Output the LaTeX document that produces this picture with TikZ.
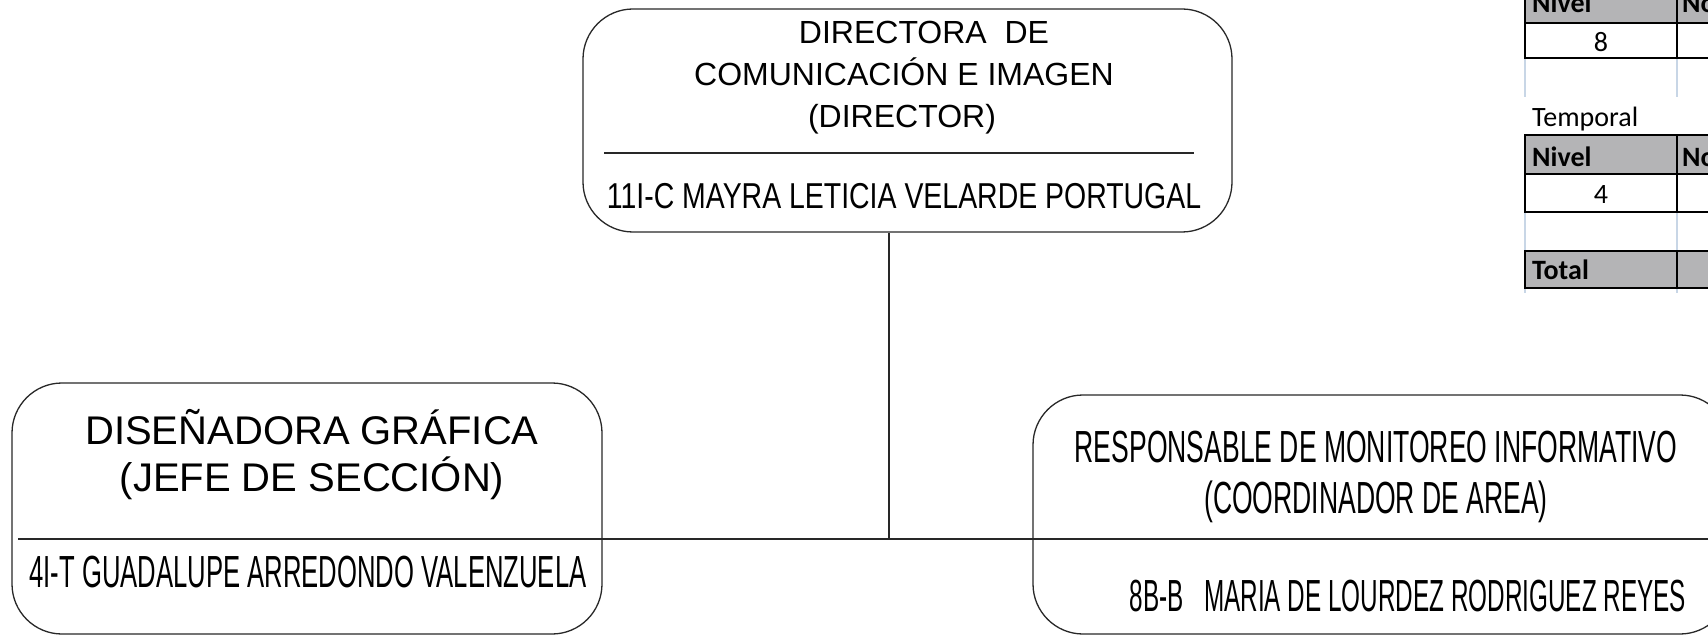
\documentclass[tikz,border=0pt]{standalone}
\usepackage{fontspec}
\setmainfont{Liberation Sans}
\newfontfamily\fA[FakeStretch=0.79]{Liberation Sans}
\newfontfamily\fB[FakeStretch=0.57]{Liberation Sans}
\newfontfamily\fD[FakeStretch=0.59]{Liberation Sans}
\newfontfamily\fE[FakeStretch=0.54]{Liberation Sans}
\newfontfamily\fC{Carlito}
\definecolor{tgray}{RGB}{180,180,182}
\definecolor{tblue}{RGB}{200,214,230}
\definecolor{edge}{RGB}{40,40,40}
\begin{document}
\begin{tikzpicture}[x=1pt,y=-1pt,
  box/.style={draw=edge, line width=1.3pt, rounded corners=50pt, inner sep=0pt},
  lbl/.style={anchor=base, inner sep=0pt},
  ttl/.style={lbl, font=\fontsize{32}{38}\selectfont},
  ttlb/.style={lbl, font=\fontsize{40}{46}\selectfont},
  nmA/.style={lbl, font=\fA\fontsize{36}{40}\selectfont},
  nmB/.style={lbl, font=\fB\fontsize{45}{50}\selectfont},
  nmD/.style={lbl, font=\fD\fontsize{45}{50}\selectfont},
  nmE/.style={lbl, font=\fE\fontsize{45}{50}\selectfont},
  conn/.style={draw=edge, line width=1.3pt},
  tb/.style={draw=black, line width=2pt},
  tl/.style={draw=tblue, line width=1.5pt},
  tx/.style={inner sep=0pt, font=\fC\fontsize{28}{32}\selectfont},
  txb/.style={inner sep=0pt, font=\fC\bfseries\fontsize{28}{32}\selectfont},
]
\useasboundingbox (0,0) rectangle (1708,636);
\clip (0,0) rectangle (1708,636);
\fill[white] (0,0) rectangle (1708,636);

% top box
\node[box, minimum width=649pt, minimum height=223pt] (dir) at (907.5,120.5) {};
\node[ttl] (dir1) at (924,44) {DIRECTORA\ \ DE};
\node[ttl] (dir2) at (904,86) {COMUNICACIÓN E IMAGEN};
\node[ttl] (dir3) at (902,128) {(DIRECTOR)};
\draw[conn] (604,153) -- (1194,153);
\node[nmA] (dirn) at (904,209) {11I-C MAYRA LETICIA VELARDE PORTUGAL};

% left box
\node[box, minimum width=590pt, minimum height=251pt] (dis) at (307,508.5) {};
\node[ttlb] (dis1) at (312,444) {DISEÑADORA GRÁFICA};
\node[ttlb] (dis2) at (312,491) {(JEFE DE SECCIÓN)};
\node[nmB] (disn) at (308,587) {4I-T GUADALUPE ARREDONDO VALENZUELA};

% right box
\node[box, minimum width=697pt, minimum height=239pt] (resp) at (1381.5,514.5) {};
\node[nmD] (resp1) at (1376,462) {RESPONSABLE DE MONITOREO INFORMATIVO};
\node[nmD] (resp2) at (1376,513) {(COORDINADOR DE AREA)};
\node[nmE] (respn) at (1408,611) {8B-B\ \ \ MARIA DE LOURDEZ RODRIGUEZ REYES};

% connectors
\coordinate (j) at (889,539);
\coordinate (hl) at (18,539);
\coordinate (hr) at (1708,539);
\draw[conn] (dir.south -| j) -- (j);
\draw[conn] (hl) -- (j) -- (hr);

% table 1
\fill[tgray] (1525,-5) rectangle (1720,23);
\draw[tl] (1525,58) -- (1525,97);
\draw[tl] (1677,58) -- (1677,97);
\draw[tb] (1525,-5) -- (1525,58) -- (1720,58);
\draw[tb] (1525,23) -- (1720,23);
\draw[tb] (1677,-5) -- (1677,58);
\node[txb, anchor=base west] (t1h1) at (1532,13) {Nivel};
\node[txb, anchor=base west] (t1h2) at (1682,13) {No};
\node[tx, anchor=base] (t1v) at (1601,52) {8};

% table 2
\node[tx, anchor=base west] (temp) at (1532,127) {Temporal};
\fill[tgray] (1525,135) rectangle (1720,174);
\fill[tgray] (1525,251) rectangle (1720,288);
\draw[tl] (1525,212) -- (1525,251);
\draw[tl] (1677,212) -- (1677,251);
\draw[tl] (1525,288) -- (1525,293);
\draw[tl] (1677,288) -- (1677,293);
\draw[tb] (1720,135) -- (1525,135) -- (1525,212) -- (1720,212);
\draw[tb] (1525,174) -- (1720,174);
\draw[tb] (1677,135) -- (1677,212);
\draw[tb] (1720,251) -- (1525,251) -- (1525,288) -- (1720,288);
\draw[tb] (1677,251) -- (1677,288);
\node[txb, anchor=base west] (t2h1) at (1532,167) {Nivel};
\node[txb, anchor=base west] (t2h2) at (1682,167) {No};
\node[tx, anchor=base] (t2v) at (1601,204) {4};
\node[txb, anchor=base west] (tot) at (1532,280) {Total};
\end{tikzpicture}
\end{document}
